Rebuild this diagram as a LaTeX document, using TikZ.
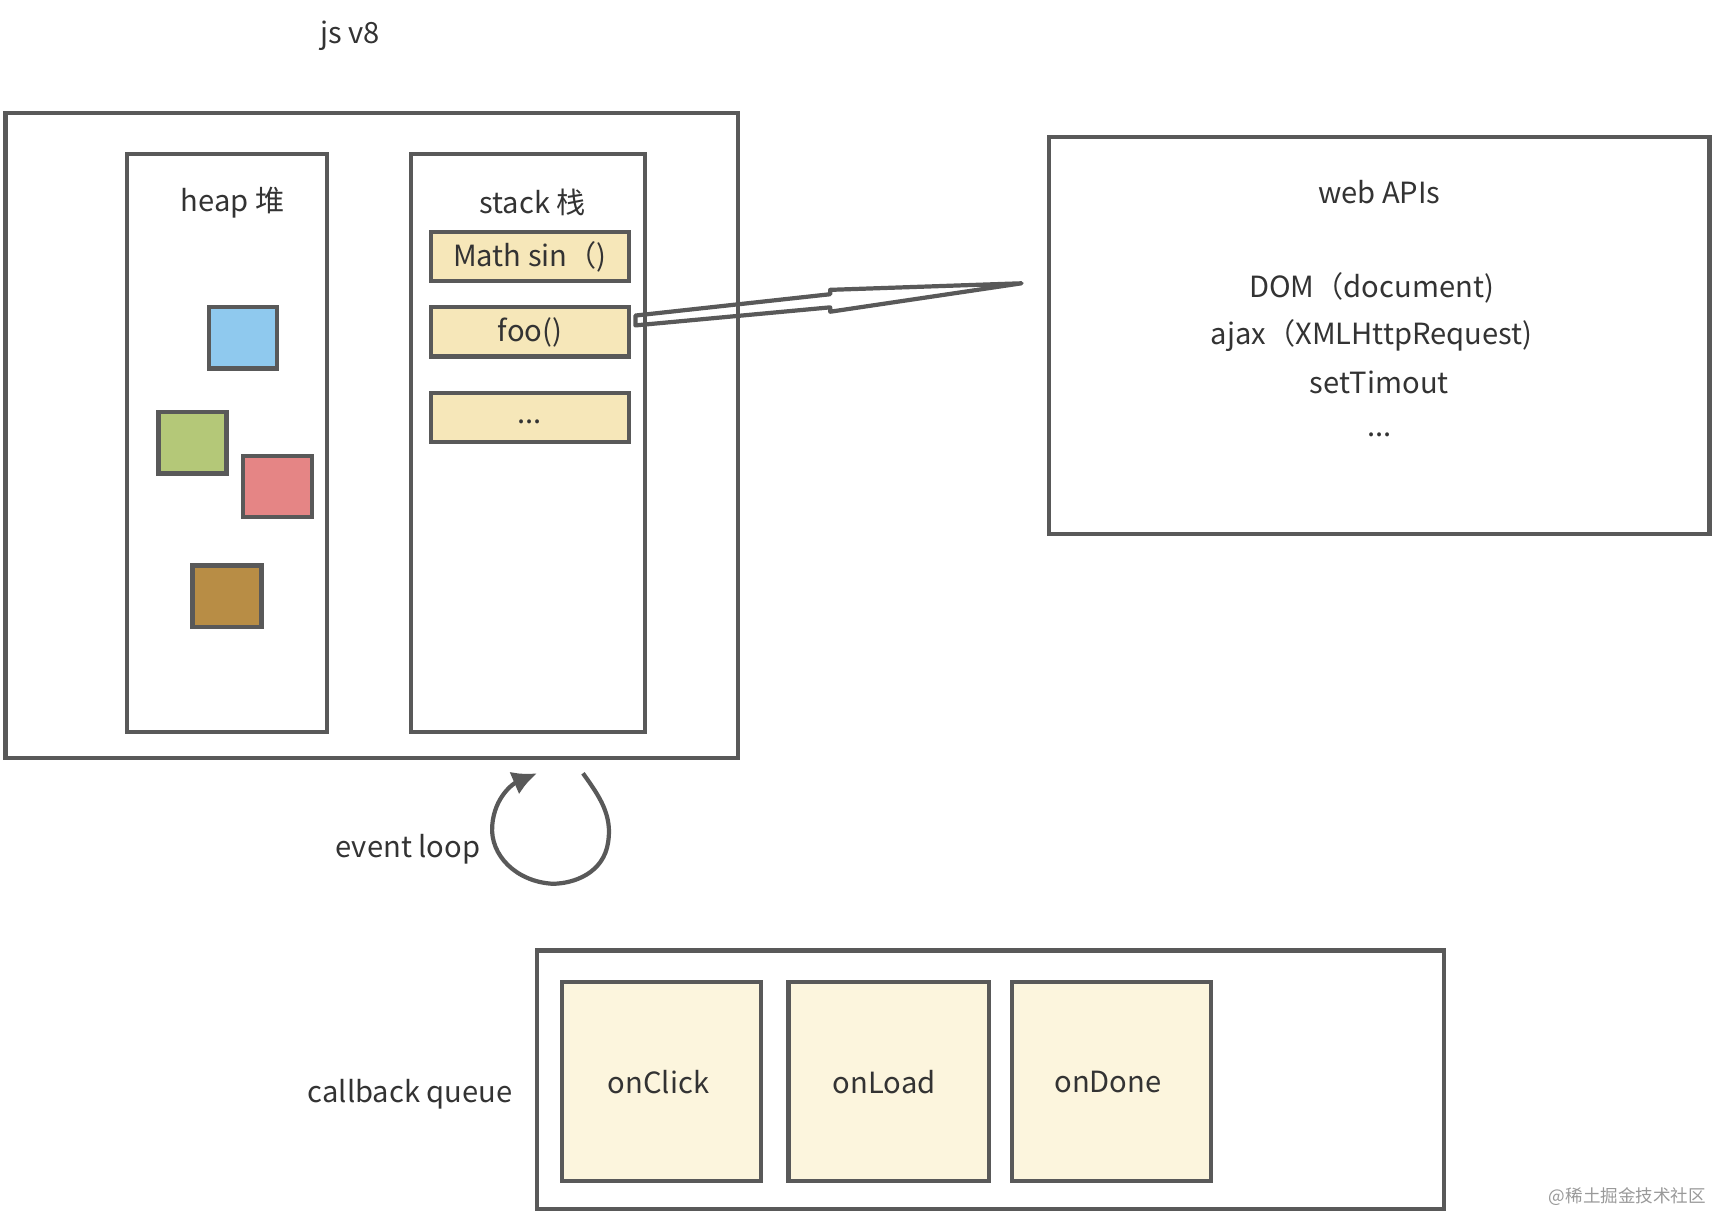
\documentclass[tikz,border=0pt]{standalone}
\usepackage{fontspec}
\setmainfont{Noto Sans CJK SC}
\usepackage{tikz}
\usetikzlibrary{positioning, fit, calc, arrows.meta}

\definecolor{linegray}{HTML}{595959}
\definecolor{stackfill}{HTML}{F6E7B9}
\definecolor{queuefill}{HTML}{FCF5DD}
\definecolor{heapblue}{HTML}{8FC9EE}
\definecolor{heapgreen}{HTML}{B4C878}
\definecolor{heapred}{HTML}{E58585}
\definecolor{heapbrown}{HTML}{B88D45}

\tikzset{
  box/.style={draw=linegray, line width=1.2pt, inner sep=0pt},
  stackitem/.style={box, fill=stackfill},
  queueitem/.style={box, fill=queuefill},
  lbl/.style={font=\fontsize{8.3}{10}\selectfont, text=black!80, inner sep=0pt},
}

\begin{document}
\begin{tikzpicture}[x=0.01094cm, y=-0.01094cm]
  \useasboundingbox (0,0) rectangle (1568,1109);

  % js engine
  \node [lbl] (title) at (320,33) {js v8};
  \node [box, fit={(5,103) (675,693)}] (engine) {};
  \node [box, fit={(116,141) (299,669)}] (heap) {};
  \node [box, fit={(376,141) (590,669)}] (stack) {};
  \node [lbl] (heaplabel) at ($(heap.north)+(5,46)$) {heap 堆};
  \node [lbl] (stacklabel) at ($(stack.north)+(4,46)$) {stack 栈};

  \node [box, fill=heapblue, fit={(191,281) (253,337)}] (obj1) {};
  \node [box, fill=heapgreen, fit={(145,377) (207,433)}] (obj2) {};
  \node [box, fill=heapred, fit={(222,417) (285,473)}] (obj3) {};
  \node [box, fill=heapbrown, fit={(176,517) (239,573)}] (obj4) {};

  \node [stackitem, fit={(394,212) (575,257)}] (mathsin) {};
  \node [stackitem, fit={(394,281) (575,326)}] (foo) {};
  \node [stackitem, fit={(394,359) (575,404)}] (more) {};
  \node [lbl] at (mathsin) {Math sin（)};
  \node [lbl] at (foo) {foo()};
  \node [lbl] at ($(more)+(0,4)$) {...};

  % web APIs
  \node [box, fit={(959,125) (1563,488)}] (webapi) {};
  \node [lbl] (apititle) at (1261,176) {web APIs};
  \node [lbl] (apidom) at (1254,263) {DOM（document)};
  \node [lbl] (apiajax) at (1254,307) {ajax（XMLHttpRequest)};
  \node [lbl] (apitimer) at (1261,350) {setTimout};
  \node [lbl] (apimore) at (1261,398) {...};

  \coordinate (apitip) at (934,259);
  \draw [draw=linegray, line width=1.2pt, line join=round]
    ($(foo.east)+(4,-15)$) -- (759,269) -- (759,265) -- (apitip)
    -- (759,285) -- (759,281) -- ($(foo.east)+(4,-6)$) -- cycle;

  % event loop
  \node [lbl] (looplabel) at (373,776) {event loop};
  \coordinate (loopstart) at (533,707);
  \coordinate (looptip) at (491,707);
  \draw [draw=linegray, line width=1.2pt, -{Latex[length=7pt, width=7pt]}]
    (loopstart) .. controls (548,728) and (560,745) .. (556,770)
    .. controls (552,798) and (525,808) .. (505,808)
    .. controls (472,806) and (448,782) .. (450,755)
    .. controls (452,728) and (470,716) .. (looptip);

  % callback queue
  \node [lbl] (queuelabel) at (375,1000) {callback queue};
  \node [box, fit={(491,869) (1320,1105)}] (queue) {};
  \node [queueitem, fit={(514,898) (696,1080)}] (onclick) {};
  \node [queueitem, fit={(721,898) (904,1080)}] (onload) {};
  \node [queueitem, fit={(925,898) (1107,1080)}] (ondone) {};
  \node [lbl] at ($(onclick)+(-3,0)$) {onClick};
  \node [lbl] at ($(onload)+(-4,0)$) {onLoad};
  \node [lbl] at ($(ondone)+(-3,0)$) {onDone};

  \node [font=\fontsize{5}{6}\selectfont, text=black!40, inner sep=0pt] (mark) at (1488,1094) {@稀土掘金技术社区};
\end{tikzpicture}
\end{document}
